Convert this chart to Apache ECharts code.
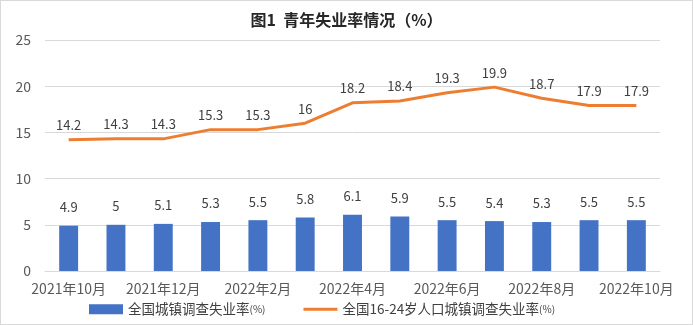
<!DOCTYPE html>
<html>
<head>
<meta charset="utf-8">
<script src="https://cdn.jsdelivr.net/npm/echarts@6/dist/echarts.min.js"></script>
<style>
html,body{margin:0;padding:0;background:#fff;}
#chart{width:693px;height:325px;box-sizing:border-box;border:1px solid #d9d9d9;}
</style>
</head>
<body>
<div id="chart"></div>
<script>
// Monthly categories, Oct 2021 – Oct 2022
const months = ['2021年10月','2021年11月','2021年12月','2022年1月','2022年2月','2022年3月','2022年4月','2022年5月','2022年6月','2022年7月','2022年8月','2022年9月','2022年10月'];
// National urban surveyed unemployment rate (%)
const urbanRate = [4.9, 5, 5.1, 5.3, 5.5, 5.8, 6.1, 5.9, 5.5, 5.4, 5.3, 5.5, 5.5];
// Urban surveyed unemployment rate, ages 16-24 (%)
const youthRate = [14.2, 14.3, 14.3, 15.3, 15.3, 16, 18.2, 18.4, 19.3, 19.9, 18.7, 17.9, 17.9];
const yTicks = [0, 5, 10, 15, 20, 25];

const font = '"Microsoft YaHei","Noto Sans CJK SC","Liberation Sans",sans-serif';
const chart = echarts.init(document.getElementById('chart'), null, {width: 691, height: 323});
chart.setOption({
  animation: false,
  textStyle: {fontFamily: font},
  title: {
    text: '图1  青年失业率情况（%）',
    left: 'center', top: 6,
    textStyle: {fontSize: 16, fontWeight: 'bold', color: '#262626', fontFamily: font}
  },
  legend: {
    bottom: 3, left: 83, itemGap: 38,
    itemWidth: 34, itemHeight: 10,
    // the "(%)" suffix is set in a smaller size
    formatter: name => name.replace('(%)', '{s|(%)}'),
    textStyle: {
      fontSize: 13.5, color: '#404040', fontFamily: font,
      rich: {s: {fontSize: 10, color: '#404040', fontFamily: font}}
    },
    data: [
      {name: '全国城镇调查失业率(%)', icon: 'rect'},
      {name: '全国16-24岁人口城镇调查失业率(%)', icon: 'path://M0,0H34V3H0Z'}
    ]
  },
  grid: {left: 44, right: 32, top: 39, bottom: 53},
  xAxis: {
    type: 'category', data: months,
    axisTick: {show: false},
    axisLine: {lineStyle: {color: '#d9d9d9'}},
    axisLabel: {interval: 1, fontSize: 14, color: '#595959', margin: 11, fontFamily: font}
  },
  yAxis: {
    type: 'value', min: yTicks[0], max: yTicks[yTicks.length - 1], interval: 5,
    axisLine: {show: false}, axisTick: {show: false},
    axisLabel: {fontSize: 14, color: '#595959', margin: 14, fontFamily: font},
    splitLine: {lineStyle: {color: '#d9d9d9'}}
  },
  series: [
    {
      name: '全国城镇调查失业率(%)', type: 'bar', data: urbanRate,
      barWidth: '40%',
      itemStyle: {color: '#4472C4'},
      label: {show: true, position: 'top', distance: 12, fontSize: 13, color: '#404040', fontFamily: font}
    },
    {
      name: '全国16-24岁人口城镇调查失业率(%)', type: 'line', data: youthRate,
      symbol: 'circle', symbolSize: 0.1, showSymbol: true,
      lineStyle: {color: '#ED7D31', width: 3},
      itemStyle: {color: '#ED7D31'},
      label: {show: true, position: 'top', distance: 8, fontSize: 13, color: '#404040', fontFamily: font}
    }
  ]
});
</script>
</body>
</html>
